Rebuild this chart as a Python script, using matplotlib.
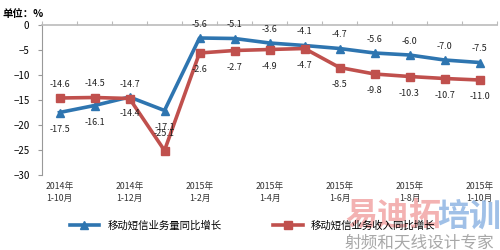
import matplotlib
matplotlib.use("Agg")
import matplotlib.pyplot as plt
import numpy as np

plt.rcParams['font.family'] = ['Noto Sans CJK SC', 'DejaVu Sans']

periods = ['2014年\n1-10月', '2014年\n1-11月', '2014年\n1-12月', '2015年\n1-1月',
           '2015年\n1-2月', '2015年\n1-3月', '2015年\n1-4月', '2015年\n1-5月',
           '2015年\n1-6月', '2015年\n1-7月', '2015年\n1-8月', '2015年\n1-9月',
           '2015年\n1-10月']
volume = [-17.5, -16.1, -14.4, -17.1, -2.6, -2.7, -3.6, -4.1, -4.7, -5.6, -6.0, -7.0, -7.5]
revenue = [-14.6, -14.5, -14.7, -25.1, -5.6, -5.1, -4.9, -4.7, -8.5, -9.8, -10.3, -10.7, -11.0]
# data labels as printed in the source chart
volume_labels = ['-17.5', '-16.1', '-14.4', '-17.1', '-5.6', '-5.1', '-3.6', '-4.1',
                 '-4.7', '-5.6', '-6.0', '-7.0', '-7.5']
revenue_labels = ['-14.6', '-14.5', '-14.7', '-25.1', '-2.6', '-2.7', '-4.9', '-4.7',
                  '-8.5', '-9.8', '-10.3', '-10.7', '-11.0']

blue = '#2E75B0'
red = '#C0504D'

fig = plt.figure(figsize=(5, 2.5), dpi=100)
ax = fig.add_axes([0.084, 0.30, 0.91, 0.60])

x = np.arange(len(periods))
ax.plot(x, volume, color=blue, lw=2.6, marker='^', ms=6, label='移动短信业务量同比增长', zorder=3)
ax.plot(x, revenue, color=red, lw=2.6, marker='s', ms=6, label='移动短信业务收入同比增长', zorder=3)

for i in range(len(x)):
    up = i >= 4
    ax.annotate(volume_labels[i], (x[i], volume[i]), xytext=(0, 10 if up else -12),
                textcoords='offset points', ha='center', va='center', fontsize=6.5, color='#222222')
    if i == 3:
        ax.annotate(revenue_labels[i], (x[i], revenue[i]), xytext=(0, 12),
                    textcoords='offset points', ha='center', va='center', fontsize=6.5, color='#222222')
    else:
        ax.annotate(revenue_labels[i], (x[i], revenue[i]), xytext=(0, -12 if up else 10),
                    textcoords='offset points', ha='center', va='center', fontsize=6.5, color='#222222')

ax.set_xlim(-0.5, len(x) - 0.5)
ax.set_ylim(-30, 0)
ax.set_yticks(np.arange(-30, 1, 5))
ax.tick_params(axis='y', labelsize=7, length=3, color='#999999', pad=6)

for s in ['right', 'bottom']:
    ax.spines[s].set_visible(False)
ax.spines['left'].set_color('#999999')
ax.spines['top'].set_color('#BBBBBB')
ax.spines['top'].set_linewidth(1.2)

ax.xaxis.set_ticks_position('top')
ax.set_xticks(np.arange(len(x) + 1) - 0.5)
ax.set_xticklabels([])
ax.tick_params(axis='x', length=3, color='#BBBBBB', direction='out')

for i in range(0, len(x), 2):
    ax.text(x[i], -31.3, periods[i], ha='center', va='top', fontsize=6.3,
            linespacing=1.5, color='#333333')

fig.text(0.005, 0.945, '单位：%', fontsize=7.5, fontweight='bold', ha='left', va='center')

fig.legend(loc='lower center', bbox_to_anchor=(0.505, 0.04), ncol=2, frameon=False,
           fontsize=7.5, handlelength=2.8, columnspacing=5.0, markerscale=0.9)

# watermark
fig.text(0.69, 0.135, '易迪拓', fontsize=23, fontweight='bold', color='#F2A5A5', alpha=0.85,
         ha='left', va='center')
fig.text(0.875, 0.135, '培训', fontsize=23, fontweight='bold', color='#8FB5E3', alpha=0.85,
         ha='left', va='center')
fig.text(0.69, 0.03, '射频和天线设计专家', fontsize=12, color='#A8A8A8', ha='left', va='center')

fig.savefig('out.png', dpi=100)
